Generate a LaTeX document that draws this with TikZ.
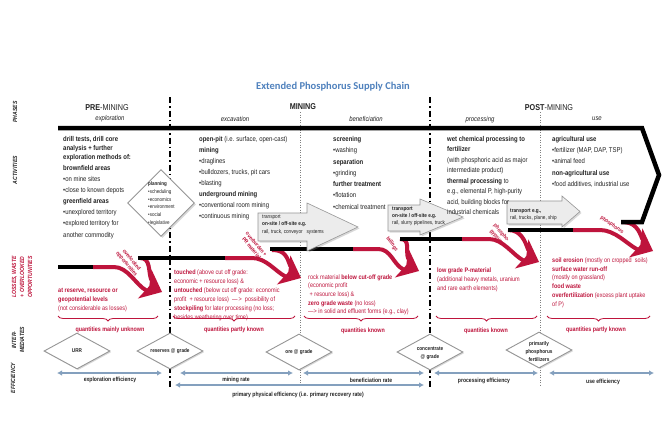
\documentclass[tikz,border=0pt]{standalone}
\usepackage{fontspec}
\setmainfont{Liberation Sans}[FakeStretch=0.85]
\newfontfamily\titlefont{Carlito}
\usetikzlibrary{arrows.meta,shapes.geometric,decorations.pathreplacing,shadows,calc}
\definecolor{lossred}{RGB}{190,20,60}
\definecolor{titleblue}{RGB}{79,129,189}
\definecolor{effblue}{RGB}{132,160,190}
\definecolor{txt}{RGB}{35,35,35}
\definecolor{boxgray}{RGB}{236,236,236}
\definecolor{edgegray}{RGB}{150,150,150}
\newcommand{\redhead}[1]{\fill[lossred] (#1) -- ++(-24.1,6.5) -- ++(11.4,-12.4) -- ++(2.1,-16.8) -- cycle;}
\begin{document}
\begin{tikzpicture}[x=1pt,y=-1pt,
 act/.style={anchor=north west,inner sep=0pt,align=left,text=txt},
 lossT/.style={anchor=north west,inner sep=0pt,align=left,text=lossred},
 phase/.style={inner sep=0pt,text=txt,font=\fontsize{8.5}{10}\selectfont},
 subph/.style={inner sep=0pt,text=txt,font=\fontsize{7}{8}\selectfont\itshape},
 sidelab/.style={rotate=90,inner sep=0pt,align=center,text=txt,font=\fontsize{6}{8}\selectfont\bfseries\itshape},
 quant/.style={inner sep=0pt,text=lossred,font=\fontsize{6.3}{7}\selectfont\bfseries},
 efflab/.style={inner sep=0pt,text=txt,font=\fontsize{6}{7}\selectfont\bfseries},
 interdia/.style={diamond,draw=edgegray,fill=white,line width=0.9pt,minimum width=66pt,minimum height=36pt,inner sep=0pt,drop shadow={shadow xshift=1.2pt,shadow yshift=-1.2pt,opacity=0.3}},
 diatext/.style={inner sep=0pt,align=center,text=txt,font=\fontsize{5.5}{8}\selectfont\bfseries},
 blackbar/.style={line width=4.5pt,black},
 redcurve/.style={line width=4pt,lossred},
 arrlab/.style={inner sep=0pt,align=center,text=lossred,font=\fontsize{5.5}{6.3}\selectfont\bfseries},
 transp/.style={fill=boxgray,draw=edgegray,line width=0.6pt,line join=miter,drop shadow={shadow xshift=1.5pt,shadow yshift=-1.5pt,opacity=0.3}},
 transtext/.style={anchor=north west,inner sep=0pt,align=left,text=txt},
 effarrow/.style={line width=2pt,effblue,{Latex[length=5pt,width=5.5pt]}-{Latex[length=5pt,width=5.5pt]}},
 mainsep/.style={line width=1.3pt,black,dash pattern=on 6pt off 3pt on 1.5pt off 3pt},
 subsep/.style={line width=0.5pt,gray,dash pattern=on 1pt off 1.5pt},
 lbrace/.style={decorate,decoration={brace,amplitude=5pt,mirror},line width=0.8pt,lossred}
]
\useasboundingbox (0,0) rectangle (666,444);
\fill[white] (0,0) rectangle (666,444);

% separators
\coordinate (s1t) at (170,97); \coordinate (s1b) at (170,388);
\coordinate (s2t) at (430,97); \coordinate (s2b) at (430,388);
\coordinate (d1t) at (300,112); \coordinate (d1b) at (300,386);
\coordinate (d2t) at (540,112); \coordinate (d2b) at (540,386);
\draw[subsep] (d1t) -- (d1b);
\draw[subsep] (d2t) -- (d2b);
\draw[mainsep] (s1t) -- (s1b);
\draw[mainsep] (s2t) -- (s2b);

% title and phases
\node[inner sep=0pt,text=titleblue,font=\titlefont\bfseries\fontsize{10.5}{13}\selectfont] (title) at (333,87) {Extended Phosphorus Supply Chain};
\node[phase] (ph1) at (107,108) {\textbf{PRE}-MINING};
\node[phase] (ph2) at (303,107) {\textbf{MINING}};
\node[phase] (ph3) at (549,108) {\textbf{POST}-MINING};
\node[subph] (sp1) at (110,119) {exploration};
\node[subph] (sp2) at (235,119) {excavation};
\node[subph] (sp3) at (366,119) {beneficiation};
\node[subph] (sp4) at (480,120) {processing};
\node[subph] (sp5) at (597,119) {use};

% side labels
\node[sidelab] (sPh) at (15,112) {PHASES};
\node[sidelab] (sAc) at (15,170) {ACTIVITIES};
\node[sidelab,text=lossred] (sLo) at (22,277) {LOSSES, WASTE\\+ OVERLOOKED\\OPPORTUNITIES};
\node[sidelab] (sIn) at (18,340) {INTER-\\MEDIATES};
\node[sidelab] (sEf) at (13,378) {EFFICIENCY};

% loss arrows (red)
\coordinate (TA) at (162,292);
\coordinate (TB) at (301,278);
\coordinate (TC) at (419,271);
\coordinate (TD) at (539,262);
\coordinate (TE) at (653,251);
\draw[redcurve] (93,267) -- (114,267) .. controls (128,267) and ($(TA)+(-26,-7)$) .. ($(TA)+(-15.9,-1.7)$);
\draw[redcurve] (140,258) .. controls (151,258) and ($(TA)+(-14,-21)$) .. ($(TA)+(-10.7,-11.9)$);
\draw[redcurve] (225,258) -- (252,258) .. controls (266,258) and ($(TB)+(-26,-7)$) .. ($(TB)+(-15.9,-1.7)$);
\draw[redcurve] (272,250) .. controls (285,250) and ($(TB)+(-14,-21)$) .. ($(TB)+(-10.7,-11.9)$);
\draw[redcurve] (353,249) -- (378,249) .. controls (391,249) and ($(TC)+(-26,-7)$) .. ($(TC)+(-15.9,-1.7)$);
\draw[redcurve] (400,239) .. controls (411,239) and ($(TC)+(-14,-21)$) .. ($(TC)+(-10.7,-11.9)$);
\draw[redcurve] (462,239) -- (489,239) .. controls (503,239) and ($(TD)+(-26,-7)$) .. ($(TD)+(-15.9,-1.7)$);
\draw[redcurve] (508,230) .. controls (521,230) and ($(TD)+(-14,-21)$) .. ($(TD)+(-10.7,-11.9)$);
\draw[redcurve] (573,230) -- (600,230) .. controls (615,230) and ($(TE)+(-26,-7)$) .. ($(TE)+(-15.9,-1.7)$);
\draw[redcurve] (622,222) .. controls (635,222) and ($(TE)+(-14,-21)$) .. ($(TE)+(-10.7,-11.9)$);
\redhead{TA}
\redhead{TB}
\redhead{TC}
\redhead{TD}
\redhead{TE}

% black outline and steps
\draw[blackbar,line join=miter] (58,128) -- (642,128) -- (659,175) -- (642,222) -- (621,222);
\draw[blackbar] (58,267) -- (93,267);
\draw[blackbar] (138,258) -- (225,258);
\draw[blackbar] (270,249) -- (353,249);
\draw[blackbar] (400,239) -- (462,239);
\draw[blackbar] (508,230) -- (573,230);

% arrow labels
\node[arrlab,rotate=-50] (lbA) at (129,262) {overlooked\\opportunities};
\node[arrlab,rotate=-50] (lbB) at (254,246) {overburden +\\PR material};
\node[arrlab,rotate=-55] (lbC) at (392,244) {tailings};
\node[arrlab,rotate=-50] (lbD) at (499,235) {phospho-\\gypsum};
\node[arrlab,rotate=-35] (lbE) at (612,225) {phosphorus};

% transport arrows
\path[transp] (258,213) -- (307,213) -- (307,203) -- (358,227) -- (307,251) -- (307,241) -- (258,241) -- cycle;
\path[transp] (388,205) -- (420,205) -- (420,199) -- (463,217) -- (420,235) -- (420,231) -- (388,231) -- cycle;
\path[transp] (507,201) -- (562,201) -- (562,196) -- (580,211.5) -- (562,227) -- (562,224) -- (507,224) -- cycle;
\node[transtext,font=\fontsize{5.5}{7.3}\selectfont] (tr1) at (262,214.8) {transport\\\textbf{on-site / off-site e.g.}\\rail, truck, conveyor\ \ \ systems};
\node[transtext,font=\fontsize{5.5}{7}\selectfont] (tr2) at (392,206.8) {\textbf{transport}\\\textbf{on-site / off-site e.g.}\\rail, slurry pipelines, truck};
\node[transtext,font=\fontsize{5.5}{7.3}\selectfont] (tr3) at (510,208.5) {\textbf{transport e.g.,}\\rail, trucks, plane, ship};

% planning diamond
\node[diamond,draw=edgegray,fill=white,line width=0.9pt,minimum width=67pt,minimum height=67pt,inner sep=0pt,drop shadow={shadow xshift=1.5pt,shadow yshift=-1.5pt,opacity=0.3}] (plan) at (161,203) {};
\node[act,font=\fontsize{5.3}{7.8}\selectfont] (planT) at (148,181.5) {\textbf{planning}\\•scheduling\\•economics\\•environment\\•social\\•legislative};

% activities
\node[act,font=\fontsize{7}{9}\selectfont\bfseries] (a1a) at (63,136.2) {drill tests, drill core\\analysis + further\\exploration methods of:};
\node[act,font=\fontsize{7}{11.1}\selectfont] (a1b) at (63,165.2) {\textbf{brownfield areas}\\•on mine sites\\•close to known depots\\\textbf{greenfield areas}\\•unexplored territory\\•explored territory for\\another commodity};
\node[act,font=\fontsize{7}{11}\selectfont] (a2) at (199,136.2) {\textbf{open-pit} (i.e. surface, open-cast)\\\textbf{mining}\\•draglines\\•bulldozers, trucks, pit cars\\•blasting\\\textbf{underground mining}\\•conventional room mining\\•continuous mining};
\node[act,font=\fontsize{7}{11.3}\selectfont] (a3) at (333,136.2) {\textbf{screening}\\•washing\\\textbf{separation}\\•grinding\\\textbf{further treatment}\\•flotation\\•chemical treatment};
\node[act,font=\fontsize{7}{10.45}\selectfont] (a4) at (447,136.2) {\textbf{wet chemical processing to}\\\textbf{fertilizer}\\(with phosphoric acid as major\\intermediate product)\\\textbf{thermal processing} to\\e.g., elemental P, high-purity\\acid, building blocks for\\industrial chemicals};
\node[act,font=\fontsize{7}{11.25}\selectfont] (a5) at (552,136.2) {\textbf{agricultural use}\\•fertilizer (MAP, DAP, TSP)\\•animal feed\\\textbf{non-agricultural use}\\•food additives, industrial use};

% losses
\node[lossT,font=\fontsize{6.5}{9}\selectfont] (l1) at (58,288.4) {\textbf{at reserve, resource or}\\\textbf{geopotential levels}\\(not considerable as losses)};
\node[lossT,font=\fontsize{6.5}{9}\selectfont] (l2) at (174,269.4) {\textbf{touched} (above cut off grade:\\economic + resource loss) \&\\\textbf{untouched} (below cut off grade: economic\\profit\ \ + resource loss)\ \ —\,>\ \ possibility of\\\textbf{stockpiling} for later processing (no loss;\\besides weathering over time)};
\node[lossT,font=\fontsize{6.5}{8.6}\selectfont] (l3) at (308,274.4) {rock material \textbf{below cut-off grade}\\(economic profit\\\ + resource loss) \&\\\textbf{zero grade waste} (no loss)\\—> in solid and effluent forms (e.g., clay)};
\node[lossT,font=\fontsize{6.5}{9}\selectfont] (l4) at (437,267.4) {\textbf{low grade P-material}\\(additional heavy metals, uranium\\and rare earth elements)};
\node[lossT,font=\fontsize{6.5}{8.8}\selectfont] (l5) at (552,257.4) {\textbf{soil erosion} (mostly on cropped\ \ soils)\\\textbf{surface water run-off}\\(mostly on grassland)\\\textbf{food waste}\\\textbf{overfertilization} (excess plant uptake\\of P)};

% braces and quantities
\coordinate (b1a) at (58,316); \coordinate (b1b) at (158,316);
\coordinate (b2a) at (173,316); \coordinate (b2b) at (295,316);
\coordinate (b3a) at (304,316); \coordinate (b3b) at (418,316);
\coordinate (b4a) at (436,316); \coordinate (b4b) at (537,316);
\coordinate (b5a) at (547,316); \coordinate (b5b) at (650,316);
\draw[lbrace] (b1a) -- (b1b);
\draw[lbrace] (b2a) -- (b2b);
\draw[lbrace] (b3a) -- (b3b);
\draw[lbrace] (b4a) -- (b4b);
\draw[lbrace] (b5a) -- (b5b);
\node[quant] (q1) at (110,330) {quantities mainly unknown};
\node[quant] (q2) at (234,330) {quantities partly known};
\node[quant] (q3) at (363,331) {quantities known};
\node[quant] (q4) at (486,331) {quantities known};
\node[quant] (q5) at (596,330) {quantities partly known};

% intermediates
\node[interdia] (urr) at (77,351) {};
\node[diatext] (urrT) at (urr) {URR};
\node[interdia] (res) at (170,351) {};
\node[diatext] (resT) at (res) {reserves @ grade};
\node[interdia] (ore) at (299,352) {};
\node[diatext] (oreT) at (ore) {ore @ grade};
\node[interdia] (conc) at (430,352) {};
\node[diatext] (concT) at (430,353) {concentrate\\@ grade};
\node[interdia] (fert) at (539,350) {};
\node[diatext] (fertT) at (539,351.5) {primarily\\phosphorus\\fertilizers};

% efficiencies
\coordinate (e1a) at (57,373); \coordinate (e1b) at (162,373);
\coordinate (e2a) at (180,373); \coordinate (e2b) at (293,373);
\coordinate (e3a) at (303,373); \coordinate (e3b) at (424,373);
\coordinate (e4a) at (175,385); \coordinate (e4b) at (424,385);
\coordinate (e5a) at (434,373); \coordinate (e5b) at (538,373);
\coordinate (e6a) at (549,373); \coordinate (e6b) at (654,373);
\draw[effarrow] (e1a) -- (e1b);
\draw[effarrow] (e2a) -- (e2b);
\draw[effarrow] (e3a) -- (e3b);
\draw[effarrow] (e4a) -- (e4b);
\draw[effarrow] (e5a) -- (e5b);
\draw[effarrow] (e6a) -- (e6b);
\node[efflab] (e1l) at (110,380) {exploration efficiency};
\node[efflab] (e2l) at (236,380) {mining rate};
\node[efflab] (e3l) at (371,380) {beneficiation rate};
\node[efflab] (e4l) at (298,395) {primary physical efficiency (i.e. primary recovery rate)};
\node[efflab] (e5l) at (484,381) {processing efficiency};
\node[efflab] (e6l) at (603,382) {use efficiency};
\end{tikzpicture}
\end{document}
